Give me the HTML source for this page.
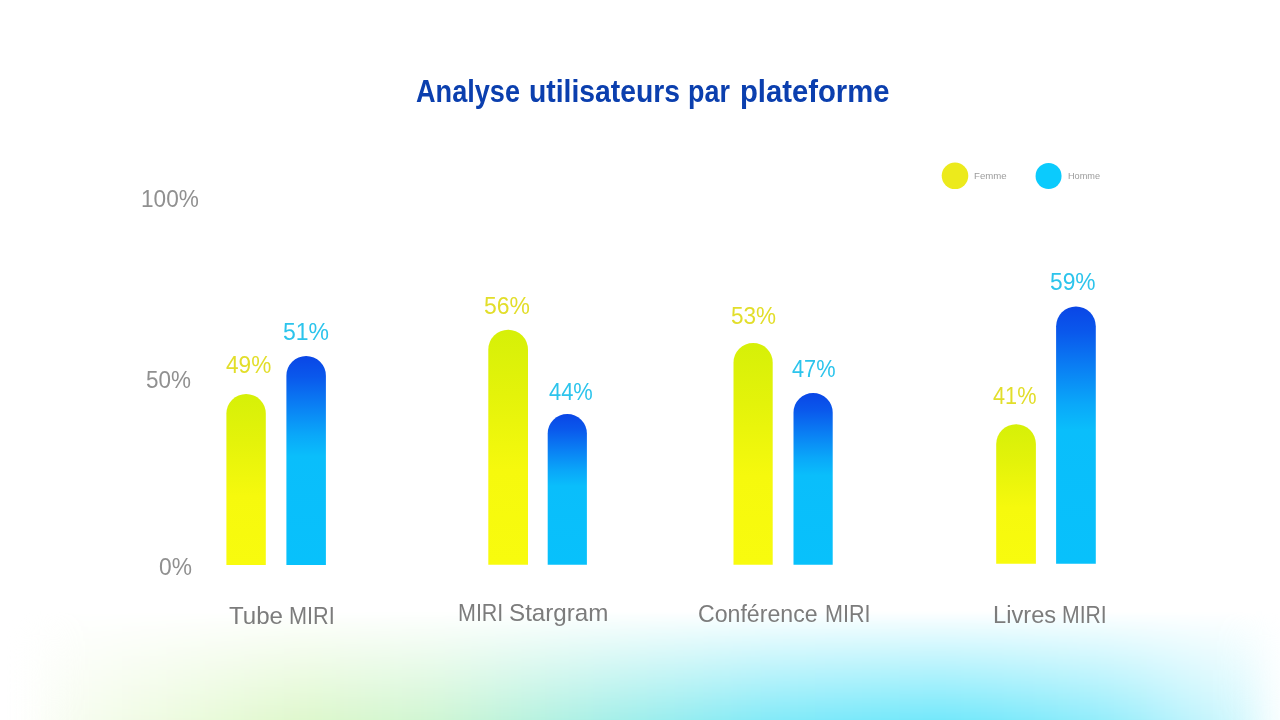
<!DOCTYPE html><html lang="fr"><head><meta charset="utf-8"><title>Analyse utilisateurs par plateforme</title><style>
html,body{margin:0;padding:0}
body{width:1280px;height:720px;position:relative;overflow:hidden;background:#fff;font-family:"Liberation Sans",sans-serif}
.t{position:absolute;white-space:nowrap;line-height:1;transform-origin:0 0}
.glowwrap{position:absolute;left:0;top:611px;width:1280px;height:109px;overflow:hidden;
 -webkit-mask-image:linear-gradient(to bottom,transparent 0,#000 119px);mask-image:linear-gradient(to bottom,transparent 0,#000 119px)}
.glow{position:absolute;left:40px;top:-80px;width:1222px;height:400px;
 background:linear-gradient(to right,#f9fdf4 0.8%,#effbe2 8.7%,#dcf7c8 21.5%,#ccf5d0 32.4%,#a0eee6 46.2%,#78e8f8 60.0%,#66e6fa 73.8%,#76e8fa 80.7%,#8eecfb 87.6%,#b6f2fc 93.5%,#d6f8fd 99.4%);
 filter:blur(20px)}
</style></head><body>
<div class="glowwrap"><div class="glow"></div></div>
<svg style="position:absolute;left:0;top:0" width="1280" height="720" viewBox="0 0 1280 720"><defs><linearGradient id="gy" x1="0" y1="0" x2="0" y2="1"><stop offset="0" stop-color="#d6f008"/><stop offset=".28" stop-color="#e4f30a"/><stop offset=".6" stop-color="#f6f90d"/><stop offset="1" stop-color="#f8fb0e"/></linearGradient><linearGradient id="gb" x1="0" y1="0" x2="0" y2="1"><stop offset="0" stop-color="#0a46e6"/><stop offset=".1" stop-color="#0a58ec"/><stop offset=".24" stop-color="#0a80f4"/><stop offset=".38" stop-color="#0aa8f9"/><stop offset=".48" stop-color="#0abefb"/><stop offset="1" stop-color="#08c1fb"/></linearGradient></defs><path fill="url(#gy)" d="M226.4 564.9V413.60A19.70 19.70 0 0 1 265.8 413.60V564.9Z"/><path fill="url(#gb)" d="M286.4 564.9V375.65A19.75 19.75 0 0 1 325.9 375.65V564.9Z"/><path fill="url(#gy)" d="M488.3 564.7V349.55A19.85 19.85 0 0 1 528.0 349.55V564.7Z"/><path fill="url(#gb)" d="M547.7 564.7V433.60A19.60 19.60 0 0 1 586.9 433.60V564.7Z"/><path fill="url(#gy)" d="M733.5 564.7V362.50A19.60 19.60 0 0 1 772.7 362.50V564.7Z"/><path fill="url(#gb)" d="M793.5 564.7V412.50A19.60 19.60 0 0 1 832.7 412.50V564.7Z"/><path fill="url(#gy)" d="M996.2 563.8V444.05A19.85 19.85 0 0 1 1035.9 444.05V563.8Z"/><path fill="url(#gb)" d="M1056.1 563.8V326.25A19.85 19.85 0 0 1 1095.8 326.25V563.8Z"/></svg>
<svg style="position:absolute;left:930px;top:150px" width="150" height="52" viewBox="0 0 150 52"><circle cx="25" cy="25.8" r="13.3" fill="#ecea1c"/><circle cx="118.55" cy="26" r="13" fill="#0bcbfd"/></svg>
<h1 style="margin:0;font-size:inherit;font-weight:inherit"><span class="t" style="left:416.2px;top:76px;font-size:31.8px;color:#0b3fae;transform:translateY(0.2px) scaleX(0.8524);font-weight:700">Analyse</span> <span class="t" style="left:529.1px;top:76px;font-size:31.8px;color:#0b3fae;transform:translateY(0.2px) scaleX(0.8903);font-weight:700">utilisateurs</span> <span class="t" style="left:687.9px;top:76px;font-size:31.8px;color:#0b3fae;transform:translateY(0.2px) scaleX(0.8461);font-weight:700">par</span> <span class="t" style="left:739.5px;top:76px;font-size:31.8px;color:#0b3fae;transform:translateY(0.2px) scaleX(0.9197);font-weight:700">plateforme</span></h1>
<div class="t" style="left:141.15px;top:186.5px;font-size:23.8px;color:#909090;transform:translateY(0px) scaleX(0.9504)">100%</div>
<div class="t" style="left:146.4px;top:368.3px;font-size:23.8px;color:#909090;transform:translateY(0px) scaleX(0.9432)">50%</div>
<div class="t" style="left:159.2px;top:555.3px;font-size:23.8px;color:#909090;transform:translateY(0px) scaleX(0.9569)">0%</div>
<div class="t" style="left:974.0px;top:171px;font-size:9.8px;color:#9c9c9c;transform:translateY(0.2px) scaleX(0.9826)">Femme</div>
<div class="t" style="left:1067.55px;top:171px;font-size:9.8px;color:#9c9c9c;transform:translateY(0.2px) scaleX(0.9359)">Homme</div>
<div class="t" style="left:225.78px;top:352.7px;font-size:24.5px;color:#e2de2a;transform:translateY(0px) scaleX(0.922)">49%</div>
<div class="t" style="left:282.9px;top:319.7px;font-size:24.5px;color:#2cc4ec;transform:translateY(0px) scaleX(0.9397)">51%</div>
<div class="t" style="left:484.3px;top:293.6px;font-size:24.5px;color:#e2de2a;transform:translateY(0px) scaleX(0.9365)">56%</div>
<div class="t" style="left:548.5px;top:380.4px;font-size:24.5px;color:#2cc4ec;transform:translateY(0px) scaleX(0.8934)">44%</div>
<div class="t" style="left:731.4px;top:304.3px;font-size:24.5px;color:#e2de2a;transform:translateY(0px) scaleX(0.9186)">53%</div>
<div class="t" style="left:791.7px;top:357.2px;font-size:24.5px;color:#2cc4ec;transform:translateY(0px) scaleX(0.8877)">47%</div>
<div class="t" style="left:992.8px;top:383.6px;font-size:24.5px;color:#e2de2a;transform:translateY(0px) scaleX(0.8862)">41%</div>
<div class="t" style="left:1050.1px;top:270.4px;font-size:24.5px;color:#2cc4ec;transform:translateY(0px) scaleX(0.9296)">59%</div>
<div class="lbl">
<span class="t" style="left:228.9px;top:603.75px;font-size:24.8px;color:#7c7c7c;transform:translateY(0px) scaleX(0.9714)">Tube</span>
<span class="t" style="left:288.7px;top:603.75px;font-size:24.8px;color:#7c7c7c;transform:translateY(0px) scaleX(0.8728)">MIRI</span>
</div>
<div class="lbl">
<span class="t" style="left:458.0px;top:601.2px;font-size:24.8px;color:#7c7c7c;transform:translateY(0px) scaleX(0.8662)">MIRI</span>
<span class="t" style="left:509.4px;top:601.2px;font-size:24.8px;color:#7c7c7c;transform:translateY(0px) scaleX(0.9753)">Stargram</span>
</div>
<div class="lbl">
<span class="t" style="left:697.9px;top:602.0px;font-size:24.8px;color:#7c7c7c;transform:translateY(0px) scaleX(0.9326)">Conférence</span>
<span class="t" style="left:825.3px;top:602.0px;font-size:24.8px;color:#7c7c7c;transform:translateY(0px) scaleX(0.8691)">MIRI</span>
</div>
<div class="lbl">
<span class="t" style="left:992.9px;top:602.5px;font-size:24.8px;color:#7c7c7c;transform:translateY(0px) scaleX(0.9545)">Livres</span>
<span class="t" style="left:1062.1px;top:602.5px;font-size:24.8px;color:#7c7c7c;transform:translateY(0px) scaleX(0.8541)">MIRI</span>
</div>
</body></html>
